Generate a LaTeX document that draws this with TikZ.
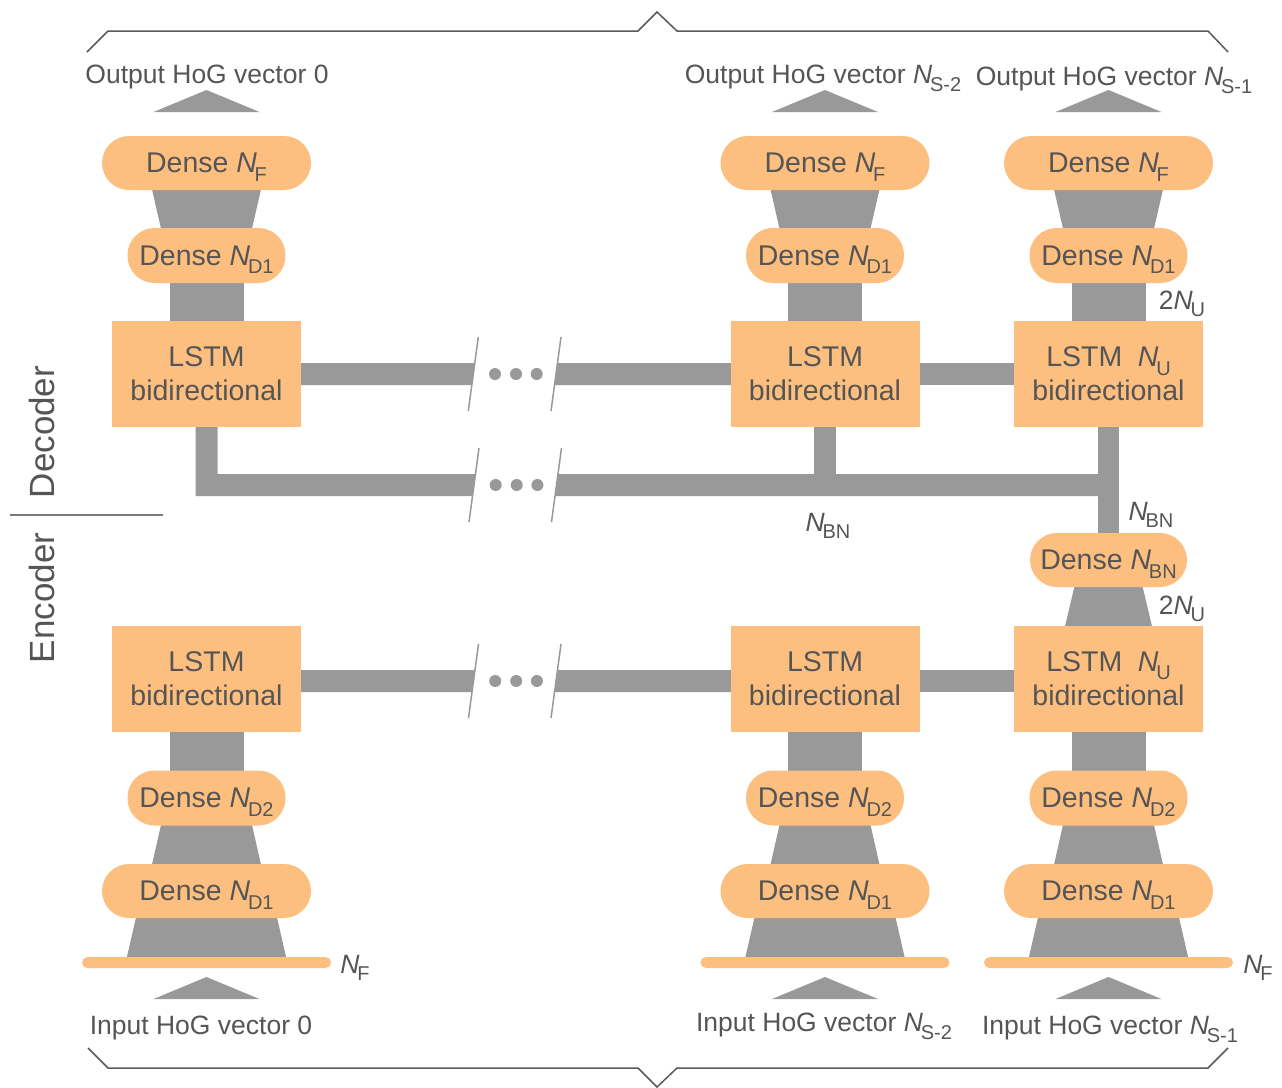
\documentclass[tikz,border=0pt]{standalone}
\usepackage{fontspec}
\setmainfont{Liberation Sans}
\usetikzlibrary{calc,backgrounds}
\definecolor{org}{RGB}{253,191,128}
\definecolor{gr}{RGB}{153,153,153}
\definecolor{txt}{RGB}{85,85,85}
\definecolor{brc}{RGB}{90,90,90}
\newcommand\Nsb[1]{\textit{N}\kern-0.08em\raisebox{-0.3em}{\fontsize{20}{20}\selectfont #1}}
\tikzset{
  pillw/.style={rectangle, rounded corners=27pt, fill=org, minimum width=209pt, minimum height=54pt, inner sep=0pt, text depth=0pt, font=\fontsize{28.5}{30}\selectfont, text=txt},
  pilln/.style={pillw, minimum width=158pt, minimum height=55pt},
  lstmbox/.style={rectangle, fill=org, minimum width=189pt, minimum height=106pt, inner sep=0pt, align=center, font=\fontsize{28.5}{34}\selectfont, text=txt},
  inbar/.style={rectangle, rounded corners=5.5pt, fill=org, minimum width=249pt, minimum height=11pt, inner sep=0pt},
  lbl/.style={font=\fontsize{26.5}{28}\selectfont, text=txt, inner sep=0pt, anchor=base},
  side/.style={font=\fontsize{35}{36}\selectfont, text=txt, inner sep=0pt, rotate=90},
  conn/.style={draw=gr, line width=22pt},
  slash/.style={draw=gr, line width=1.5pt},
  brace/.style={draw=brc, line width=1.5pt},
}
\begin{document}
\begin{tikzpicture}[x=1pt,y=-1pt]
\useasboundingbox (0,0) rectangle (1282,1087);

% columns
\foreach \i/\c in {1/206.5,2/825,3/1108.5}{
  \node[pillw] (nf\i) at (\c,163) {Dense \Nsb{F}};
  \node[pilln] (nd\i) at (\c,255.5) {Dense \Nsb{D1}};
  \node[pilln] (ed\i) at (\c,798) {Dense \Nsb{D2}};
  \node[pillw] (ee\i) at (\c,891) {Dense \Nsb{D1}};
  \node[inbar] (in\i) at (\c,962.5) {};
  \fill[gr] (\c-53,112) -- (\c,90) -- (\c+53,112) -- cycle;
  \fill[gr] (\c-53,999) -- (\c,977) -- (\c+53,999) -- cycle;
}
\node[lstmbox] (lstm1) at (206.5,374) {LSTM\\bidirectional};
\node[lstmbox] (lstm2) at (825,374) {LSTM\\bidirectional};
\node[lstmbox] (lstm3) at (1108.5,374) {LSTM\hspace{0.55em}\Nsb{U}\\bidirectional};
\node[lstmbox] (el1) at (206.5,678.5) {LSTM\\bidirectional};
\node[lstmbox] (el2) at (825,678.5) {LSTM\\bidirectional};
\node[lstmbox] (el3) at (1108.5,678.5) {LSTM\hspace{0.55em}\Nsb{U}\\bidirectional};
\node[pilln, minimum width=157pt, minimum height=54pt] (nbn) at (1108.5,560) {Dense \Nsb{BN}};

% break points
\coordinate (ba) at (473.3,374);
\coordinate (bb) at (556,374);
\coordinate (bc) at (474,485);
\coordinate (bd) at (556.5,485);
\coordinate (be) at (473.5,681);
\coordinate (bf) at (556,681);

\begin{scope}[on background layer]
\foreach \i in {1,2,3}{
  \fill[gr] ($(nf\i.south)+(-55,-3)$) -- ($(nf\i.south)+(55,-3)$) -- ($(nd\i.north)+(45,3)$) -- ($(nd\i.north)+(-45,3)$) -- cycle;
  \fill[gr] ($(nd\i.south)+(-37,-3)$) rectangle ($(lstm\i.north)+(37,3)$);
  \fill[gr] ($(el\i.south)+(-37,-3)$) rectangle ($(ed\i.north)+(37,3)$);
  \fill[gr] ($(ed\i.south)+(-45,-3)$) -- ($(ed\i.south)+(45,-3)$) -- ($(ee\i.north)+(55,3)$) -- ($(ee\i.north)+(-55,3)$) -- cycle;
  \fill[gr] ($(ee\i.south)+(-70,-3)$) -- ($(ee\i.south)+(70,-3)$) -- ($(in\i.north)+(80,2)$) -- ($(in\i.north)+(-80,2)$) -- cycle;
}
% decoder top row
\fill[gr] ($(lstm1.east)+(-2,-11)$) -- ($(ba)+(1.5,-11)$) -- ($(ba)+(-1.5,11)$) -- ($(lstm1.east)+(-2,11)$) -- cycle;
\fill[gr] ($(bb)+(1.5,-11)$) -- ($(lstm2.west)+(2,-11)$) -- ($(lstm2.west)+(2,11)$) -- ($(bb)+(-1.5,11)$) -- cycle;
\draw[conn] (lstm2.east) -- (lstm3.west);
% decoder lower bar
\fill[gr] ($(lstm1.south)+(-11,-2)$) -- ($(lstm1.south |- bc)+(-11,11)$) -- ($(bc)+(-1.5,11)$) -- ($(bc)+(1.5,-11)$) -- ($(lstm1.south |- bc)+(11,-11)$) -- ($(lstm1.south)+(11,-2)$) -- cycle;
\fill[gr] ($(bd)+(1.5,-11)$) -- ($(lstm3.south |- bd)+(0,-11)$) -- ($(lstm3.south |- bd)+(0,11)$) -- ($(bd)+(-1.5,11)$) -- cycle;
\draw[conn] ($(lstm2.south)+(0,-2)$) -- (lstm2.south |- bd);
\draw[draw=gr, line width=21pt] ($(lstm3.south)+(0,-2)$) -- ($(nbn.north)+(0,2)$);
\fill[gr] ($(nbn.south)+(-33.5,-3)$) -- ($(nbn.south)+(33.5,-3)$) -- ($(el3.north)+(44,3)$) -- ($(el3.north)+(-44,3)$) -- cycle;
% encoder row
\fill[gr] ($(el1.east |- be)+(-2,-11)$) -- ($(be)+(1.5,-11)$) -- ($(be)+(-1.5,11)$) -- ($(el1.east |- be)+(-2,11)$) -- cycle;
\fill[gr] ($(bf)+(1.5,-11)$) -- ($(el2.west |- bf)+(2,-11)$) -- ($(el2.west |- bf)+(2,11)$) -- ($(bf)+(-1.5,11)$) -- cycle;
\draw[conn] (el2.east |- bf) -- (el3.west |- bf);
\end{scope}

% slashes and dots
\foreach \b in {ba,bb,bc,bd,be,bf}{
  \draw[slash] ($(\b)+(5,-37)$) -- ($(\b)+(-5,37)$);
}
\foreach \b in {ba,bc,be}{
  \foreach \d in {21.7,42.7,63.4}{
    \fill[gr] ($(\b)+(\d,0)$) circle (6pt);
  }
}

% labels
\node[lbl] (o1) at (207,83.5) {Output HoG vector 0};
\node[lbl] (o2) at (823,83.5) {Output HoG vector \Nsb{S-2}};
\node[lbl] (o3) at (1114,85.5) {Output HoG vector \Nsb{S-1}};
\node[lbl] (i1) at (201,1034.5) {Input HoG vector 0};
\node[lbl] (i2) at (824,1031.5) {Input HoG vector \Nsb{S-2}};
\node[lbl] (i3) at (1110,1034.5) {Input HoG vector \Nsb{S-1}};
\node[lbl] (u1) at (1182,309) {2\Nsb{U}};
\node[lbl] (u2) at (1182,614) {2\Nsb{U}};
\node[lbl] (bn1) at (1151,520) {\Nsb{BN}};
\node[lbl] (bn2) at (828,531) {\Nsb{BN}};
\node[lbl] (f1) at (355,973) {\Nsb{F}};
\node[lbl] (f3) at (1258,973) {\Nsb{F}};

\node[side] (dec) at (42,432) {Decoder};
\node[side] (enc) at (42,598) {Encoder};
\draw[draw=gr!80!black, line width=1.5pt] (10,515) -- (163,515);

% braces
\draw[brace] (87,52) -- (108,31) -- (638,31) -- (657,12) -- (677,31) -- (1208,31) -- (1228,52);
\draw[brace] (88,1048) -- (108,1068) -- (638,1068) -- (657,1087) -- (677,1068) -- (1208,1068) -- (1228,1048);
\end{tikzpicture}
\end{document}
